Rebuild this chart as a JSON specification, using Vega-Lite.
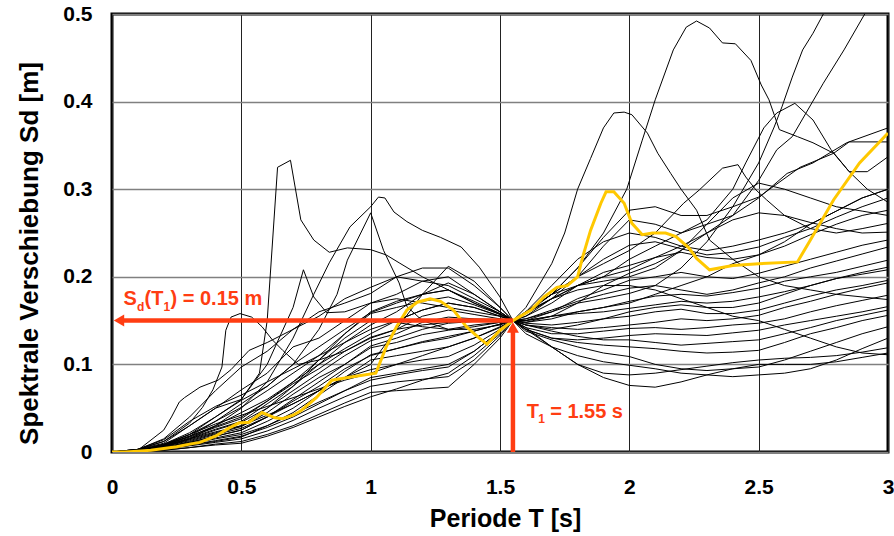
{
"$schema":"https://vega.github.io/schema/vega-lite/v6.json",
"width":776,"height":438,
"autosize":{"type":"none"},
"padding":{"left":112,"top":14,"right":6,"bottom":84},
"background":"white",
"config":{"view":{"stroke":"#000","strokeWidth":3},"font":"Liberation Sans"},
"datasets":{
"spectra":[
{"i":"1","T":0,"S":0},{"i":"1","T":0.1,"S":0.003},{"i":"1","T":0.2,"S":0.015},{"i":"1","T":0.3,"S":0.04},{"i":"1","T":0.4,"S":0.07},{"i":"1","T":0.5,"S":0.097},{"i":"1","T":0.6,"S":0.115},{"i":"1","T":0.7,"S":0.14},{"i":"1","T":0.8,"S":0.155},{"i":"1","T":0.9,"S":0.175},{"i":"1","T":1,"S":0.188},{"i":"1","T":1.1,"S":0.2},{"i":"1","T":1.2,"S":0.195},{"i":"1","T":1.3,"S":0.19},{"i":"1","T":1.4,"S":0.175},{"i":"1","T":1.5,"S":0.16},{"i":"1","T":1.55,"S":0.15},{"i":"1","T":1.6,"S":0.165},{"i":"1","T":1.7,"S":0.215},{"i":"1","T":1.75,"S":0.25},{"i":"1","T":1.8,"S":0.3},{"i":"1","T":1.85,"S":0.335},{"i":"1","T":1.9,"S":0.37},{"i":"1","T":1.94,"S":0.387},{"i":"1","T":1.98,"S":0.388},{"i":"1","T":2.01,"S":0.385},{"i":"1","T":2.07,"S":0.364},{"i":"1","T":2.11,"S":0.341},{"i":"1","T":2.16,"S":0.318},{"i":"1","T":2.2,"S":0.3},{"i":"1","T":2.26,"S":0.276},{"i":"1","T":2.31,"S":0.242},{"i":"1","T":2.4,"S":0.22},{"i":"1","T":2.5,"S":0.2},{"i":"1","T":2.6,"S":0.19},{"i":"1","T":2.7,"S":0.185},{"i":"1","T":2.8,"S":0.18},{"i":"1","T":2.9,"S":0.177},{"i":"1","T":3,"S":0.174},
{"i":"2","T":0,"S":0},{"i":"2","T":0.1,"S":0.002},{"i":"2","T":0.2,"S":0.025},{"i":"2","T":0.23,"S":0.04},{"i":"2","T":0.26,"S":0.057},{"i":"2","T":0.28,"S":0.062},{"i":"2","T":0.34,"S":0.074},{"i":"2","T":0.41,"S":0.082},{"i":"2","T":0.46,"S":0.094},{"i":"2","T":0.53,"S":0.116},{"i":"2","T":0.6,"S":0.125},{"i":"2","T":0.7,"S":0.14},{"i":"2","T":0.8,"S":0.16},{"i":"2","T":0.9,"S":0.17},{"i":"2","T":1,"S":0.181},{"i":"2","T":1.1,"S":0.2},{"i":"2","T":1.2,"S":0.21},{"i":"2","T":1.3,"S":0.21},{"i":"2","T":1.4,"S":0.19},{"i":"2","T":1.5,"S":0.165},{"i":"2","T":1.55,"S":0.15},{"i":"2","T":1.6,"S":0.16},{"i":"2","T":1.7,"S":0.18},{"i":"2","T":1.8,"S":0.21},{"i":"2","T":1.9,"S":0.25},{"i":"2","T":1.99,"S":0.3},{"i":"2","T":2.05,"S":0.356},{"i":"2","T":2.1,"S":0.402},{"i":"2","T":2.17,"S":0.459},{"i":"2","T":2.22,"S":0.485},{"i":"2","T":2.26,"S":0.492},{"i":"2","T":2.31,"S":0.484},{"i":"2","T":2.36,"S":0.467},{"i":"2","T":2.41,"S":0.466},{"i":"2","T":2.47,"S":0.447},{"i":"2","T":2.51,"S":0.419},{"i":"2","T":2.54,"S":0.402},{"i":"2","T":2.58,"S":0.368},{"i":"2","T":2.65,"S":0.36},{"i":"2","T":2.71,"S":0.353},{"i":"2","T":2.79,"S":0.341},{"i":"2","T":2.85,"S":0.32},{"i":"2","T":2.92,"S":0.32},{"i":"2","T":3,"S":0.337},
{"i":"3","T":0,"S":0},{"i":"3","T":0.1,"S":0.003},{"i":"3","T":0.2,"S":0.01},{"i":"3","T":0.3,"S":0.03},{"i":"3","T":0.4,"S":0.05},{"i":"3","T":0.5,"S":0.071},{"i":"3","T":0.6,"S":0.09},{"i":"3","T":0.7,"S":0.12},{"i":"3","T":0.8,"S":0.13},{"i":"3","T":0.9,"S":0.15},{"i":"3","T":1,"S":0.17},{"i":"3","T":1.1,"S":0.18},{"i":"3","T":1.2,"S":0.195},{"i":"3","T":1.3,"S":0.2},{"i":"3","T":1.4,"S":0.18},{"i":"3","T":1.5,"S":0.16},{"i":"3","T":1.55,"S":0.15},{"i":"3","T":1.6,"S":0.155},{"i":"3","T":1.7,"S":0.175},{"i":"3","T":1.8,"S":0.19},{"i":"3","T":1.9,"S":0.2},{"i":"3","T":2,"S":0.22},{"i":"3","T":2.1,"S":0.235},{"i":"3","T":2.2,"S":0.25},{"i":"3","T":2.3,"S":0.265},{"i":"3","T":2.4,"S":0.3},{"i":"3","T":2.45,"S":0.33},{"i":"3","T":2.52,"S":0.37},{"i":"3","T":2.57,"S":0.387},{"i":"3","T":2.64,"S":0.398},{"i":"3","T":2.71,"S":0.379},{"i":"3","T":2.78,"S":0.345},{"i":"3","T":2.85,"S":0.32},{"i":"3","T":2.92,"S":0.3},{"i":"3","T":3,"S":0.285},
{"i":"4","T":0,"S":0},{"i":"4","T":0.1,"S":0.002},{"i":"4","T":0.2,"S":0.009},{"i":"4","T":0.3,"S":0.022},{"i":"4","T":0.4,"S":0.04},{"i":"4","T":0.5,"S":0.059},{"i":"4","T":0.6,"S":0.075},{"i":"4","T":0.7,"S":0.1},{"i":"4","T":0.8,"S":0.12},{"i":"4","T":0.9,"S":0.14},{"i":"4","T":1,"S":0.159},{"i":"4","T":1.1,"S":0.17},{"i":"4","T":1.2,"S":0.18},{"i":"4","T":1.3,"S":0.185},{"i":"4","T":1.4,"S":0.17},{"i":"4","T":1.5,"S":0.158},{"i":"4","T":1.55,"S":0.15},{"i":"4","T":1.6,"S":0.152},{"i":"4","T":1.7,"S":0.16},{"i":"4","T":1.8,"S":0.17},{"i":"4","T":1.9,"S":0.175},{"i":"4","T":2,"S":0.181},{"i":"4","T":2.1,"S":0.19},{"i":"4","T":2.2,"S":0.21},{"i":"4","T":2.3,"S":0.24},{"i":"4","T":2.4,"S":0.28},{"i":"4","T":2.5,"S":0.33},{"i":"4","T":2.56,"S":0.371},{"i":"4","T":2.59,"S":0.394},{"i":"4","T":2.63,"S":0.428},{"i":"4","T":2.67,"S":0.459},{"i":"4","T":2.71,"S":0.478},{"i":"4","T":2.75,"S":0.5},{"i":"4","T":2.8,"S":0.54},
{"i":"5","T":0,"S":0},{"i":"5","T":0.1,"S":0.002},{"i":"5","T":0.2,"S":0.008},{"i":"5","T":0.3,"S":0.02},{"i":"5","T":0.4,"S":0.035},{"i":"5","T":0.5,"S":0.051},{"i":"5","T":0.6,"S":0.07},{"i":"5","T":0.7,"S":0.09},{"i":"5","T":0.8,"S":0.11},{"i":"5","T":0.9,"S":0.135},{"i":"5","T":1,"S":0.158},{"i":"5","T":1.1,"S":0.165},{"i":"5","T":1.2,"S":0.172},{"i":"5","T":1.3,"S":0.177},{"i":"5","T":1.4,"S":0.168},{"i":"5","T":1.5,"S":0.157},{"i":"5","T":1.55,"S":0.15},{"i":"5","T":1.6,"S":0.158},{"i":"5","T":1.7,"S":0.175},{"i":"5","T":1.8,"S":0.19},{"i":"5","T":1.9,"S":0.2},{"i":"5","T":2,"S":0.208},{"i":"5","T":2.1,"S":0.222},{"i":"5","T":2.2,"S":0.235},{"i":"5","T":2.3,"S":0.25},{"i":"5","T":2.4,"S":0.27},{"i":"5","T":2.5,"S":0.31},{"i":"5","T":2.57,"S":0.345},{"i":"5","T":2.63,"S":0.36},{"i":"5","T":2.75,"S":0.421},{"i":"5","T":2.83,"S":0.459},{"i":"5","T":2.91,"S":0.5},{"i":"5","T":3,"S":0.55},
{"i":"6","T":0,"S":0},{"i":"6","T":0.1,"S":0.002},{"i":"6","T":0.2,"S":0.007},{"i":"6","T":0.3,"S":0.018},{"i":"6","T":0.4,"S":0.03},{"i":"6","T":0.5,"S":0.045},{"i":"6","T":0.6,"S":0.06},{"i":"6","T":0.7,"S":0.08},{"i":"6","T":0.8,"S":0.1},{"i":"6","T":0.9,"S":0.118},{"i":"6","T":1,"S":0.135},{"i":"6","T":1.1,"S":0.15},{"i":"6","T":1.2,"S":0.162},{"i":"6","T":1.3,"S":0.17},{"i":"6","T":1.4,"S":0.165},{"i":"6","T":1.5,"S":0.155},{"i":"6","T":1.55,"S":0.15},{"i":"6","T":1.6,"S":0.16},{"i":"6","T":1.7,"S":0.18},{"i":"6","T":1.8,"S":0.2},{"i":"6","T":1.9,"S":0.215},{"i":"6","T":2,"S":0.23},{"i":"6","T":2.1,"S":0.25},{"i":"6","T":2.21,"S":0.284},{"i":"6","T":2.27,"S":0.299},{"i":"6","T":2.36,"S":0.324},{"i":"6","T":2.42,"S":0.328},{"i":"6","T":2.45,"S":0.314},{"i":"6","T":2.49,"S":0.299},{"i":"6","T":2.53,"S":0.288},{"i":"6","T":2.6,"S":0.27},{"i":"6","T":2.7,"S":0.255},{"i":"6","T":2.8,"S":0.25},{"i":"6","T":2.9,"S":0.255},{"i":"6","T":3,"S":0.261},
{"i":"7","T":0,"S":0},{"i":"7","T":0.1,"S":0.002},{"i":"7","T":0.2,"S":0.008},{"i":"7","T":0.3,"S":0.018},{"i":"7","T":0.4,"S":0.029},{"i":"7","T":0.5,"S":0.04},{"i":"7","T":0.6,"S":0.058},{"i":"7","T":0.7,"S":0.078},{"i":"7","T":0.8,"S":0.095},{"i":"7","T":0.9,"S":0.115},{"i":"7","T":1,"S":0.131},{"i":"7","T":1.1,"S":0.14},{"i":"7","T":1.2,"S":0.155},{"i":"7","T":1.3,"S":0.162},{"i":"7","T":1.4,"S":0.157},{"i":"7","T":1.5,"S":0.152},{"i":"7","T":1.55,"S":0.15},{"i":"7","T":1.6,"S":0.158},{"i":"7","T":1.7,"S":0.18},{"i":"7","T":1.8,"S":0.21},{"i":"7","T":1.9,"S":0.245},{"i":"7","T":2,"S":0.276},{"i":"7","T":2.1,"S":0.28},{"i":"7","T":2.2,"S":0.27},{"i":"7","T":2.3,"S":0.27},{"i":"7","T":2.4,"S":0.28},{"i":"7","T":2.5,"S":0.291},{"i":"7","T":2.66,"S":0.325},{"i":"7","T":2.79,"S":0.341},{"i":"7","T":2.85,"S":0.354},{"i":"7","T":3,"S":0.354},
{"i":"8","T":0,"S":0},{"i":"8","T":0.1,"S":0.002},{"i":"8","T":0.2,"S":0.007},{"i":"8","T":0.3,"S":0.015},{"i":"8","T":0.4,"S":0.025},{"i":"8","T":0.5,"S":0.034},{"i":"8","T":0.6,"S":0.05},{"i":"8","T":0.7,"S":0.07},{"i":"8","T":0.8,"S":0.09},{"i":"8","T":0.9,"S":0.11},{"i":"8","T":1,"S":0.127},{"i":"8","T":1.1,"S":0.135},{"i":"8","T":1.2,"S":0.148},{"i":"8","T":1.3,"S":0.154},{"i":"8","T":1.4,"S":0.152},{"i":"8","T":1.5,"S":0.151},{"i":"8","T":1.55,"S":0.15},{"i":"8","T":1.6,"S":0.16},{"i":"8","T":1.7,"S":0.18},{"i":"8","T":1.8,"S":0.2},{"i":"8","T":1.9,"S":0.235},{"i":"8","T":2,"S":0.265},{"i":"8","T":2.1,"S":0.26},{"i":"8","T":2.2,"S":0.25},{"i":"8","T":2.3,"S":0.26},{"i":"8","T":2.4,"S":0.27},{"i":"8","T":2.5,"S":0.29},{"i":"8","T":2.61,"S":0.318},{"i":"8","T":2.71,"S":0.33},{"i":"8","T":2.84,"S":0.353},{"i":"8","T":3,"S":0.37},
{"i":"9","T":0,"S":0},{"i":"9","T":0.1,"S":0.002},{"i":"9","T":0.2,"S":0.006},{"i":"9","T":0.3,"S":0.013},{"i":"9","T":0.4,"S":0.021},{"i":"9","T":0.5,"S":0.029},{"i":"9","T":0.6,"S":0.045},{"i":"9","T":0.7,"S":0.066},{"i":"9","T":0.8,"S":0.085},{"i":"9","T":0.9,"S":0.1},{"i":"9","T":1,"S":0.121},{"i":"9","T":1.1,"S":0.13},{"i":"9","T":1.2,"S":0.14},{"i":"9","T":1.3,"S":0.147},{"i":"9","T":1.4,"S":0.149},{"i":"9","T":1.5,"S":0.15},{"i":"9","T":1.55,"S":0.15},{"i":"9","T":1.6,"S":0.16},{"i":"9","T":1.7,"S":0.19},{"i":"9","T":1.8,"S":0.22},{"i":"9","T":1.9,"S":0.24},{"i":"9","T":2,"S":0.25},{"i":"9","T":2.1,"S":0.245},{"i":"9","T":2.2,"S":0.235},{"i":"9","T":2.3,"S":0.23},{"i":"9","T":2.4,"S":0.235},{"i":"9","T":2.5,"S":0.242},{"i":"9","T":2.6,"S":0.25},{"i":"9","T":2.7,"S":0.26},{"i":"9","T":2.8,"S":0.275},{"i":"9","T":2.9,"S":0.29},{"i":"9","T":3,"S":0.3},
{"i":"10","T":0,"S":0},{"i":"10","T":0.1,"S":0.001},{"i":"10","T":0.2,"S":0.005},{"i":"10","T":0.3,"S":0.011},{"i":"10","T":0.4,"S":0.018},{"i":"10","T":0.5,"S":0.025},{"i":"10","T":0.6,"S":0.04},{"i":"10","T":0.7,"S":0.06},{"i":"10","T":0.8,"S":0.08},{"i":"10","T":0.9,"S":0.1},{"i":"10","T":1,"S":0.119},{"i":"10","T":1.1,"S":0.125},{"i":"10","T":1.2,"S":0.134},{"i":"10","T":1.3,"S":0.139},{"i":"10","T":1.4,"S":0.143},{"i":"10","T":1.5,"S":0.148},{"i":"10","T":1.55,"S":0.15},{"i":"10","T":1.6,"S":0.158},{"i":"10","T":1.7,"S":0.175},{"i":"10","T":1.8,"S":0.2},{"i":"10","T":1.9,"S":0.22},{"i":"10","T":2,"S":0.236},{"i":"10","T":2.1,"S":0.24},{"i":"10","T":2.2,"S":0.232},{"i":"10","T":2.3,"S":0.225},{"i":"10","T":2.4,"S":0.228},{"i":"10","T":2.5,"S":0.234},{"i":"10","T":2.6,"S":0.245},{"i":"10","T":2.7,"S":0.255},{"i":"10","T":2.8,"S":0.268},{"i":"10","T":2.9,"S":0.28},{"i":"10","T":3,"S":0.29},
{"i":"11","T":0,"S":0},{"i":"11","T":0.1,"S":0.001},{"i":"11","T":0.2,"S":0.004},{"i":"11","T":0.3,"S":0.01},{"i":"11","T":0.4,"S":0.016},{"i":"11","T":0.5,"S":0.022},{"i":"11","T":0.6,"S":0.035},{"i":"11","T":0.7,"S":0.05},{"i":"11","T":0.8,"S":0.07},{"i":"11","T":0.9,"S":0.092},{"i":"11","T":1,"S":0.111},{"i":"11","T":1.1,"S":0.118},{"i":"11","T":1.2,"S":0.126},{"i":"11","T":1.3,"S":0.132},{"i":"11","T":1.4,"S":0.138},{"i":"11","T":1.5,"S":0.146},{"i":"11","T":1.55,"S":0.15},{"i":"11","T":1.6,"S":0.155},{"i":"11","T":1.7,"S":0.17},{"i":"11","T":1.8,"S":0.19},{"i":"11","T":1.9,"S":0.205},{"i":"11","T":2,"S":0.213},{"i":"11","T":2.1,"S":0.222},{"i":"11","T":2.2,"S":0.228},{"i":"11","T":2.3,"S":0.222},{"i":"11","T":2.4,"S":0.22},{"i":"11","T":2.5,"S":0.225},{"i":"11","T":2.6,"S":0.235},{"i":"11","T":2.7,"S":0.248},{"i":"11","T":2.8,"S":0.26},{"i":"11","T":2.9,"S":0.27},{"i":"11","T":3,"S":0.276},
{"i":"12","T":0,"S":0},{"i":"12","T":0.1,"S":0.001},{"i":"12","T":0.2,"S":0.004},{"i":"12","T":0.3,"S":0.008},{"i":"12","T":0.4,"S":0.012},{"i":"12","T":0.5,"S":0.017},{"i":"12","T":0.6,"S":0.03},{"i":"12","T":0.7,"S":0.045},{"i":"12","T":0.8,"S":0.065},{"i":"12","T":0.9,"S":0.085},{"i":"12","T":1,"S":0.105},{"i":"12","T":1.1,"S":0.11},{"i":"12","T":1.2,"S":0.115},{"i":"12","T":1.3,"S":0.12},{"i":"12","T":1.4,"S":0.13},{"i":"12","T":1.5,"S":0.142},{"i":"12","T":1.55,"S":0.15},{"i":"12","T":1.6,"S":0.148},{"i":"12","T":1.7,"S":0.155},{"i":"12","T":1.8,"S":0.17},{"i":"12","T":1.9,"S":0.19},{"i":"12","T":2,"S":0.204},{"i":"12","T":2.1,"S":0.215},{"i":"12","T":2.2,"S":0.23},{"i":"12","T":2.3,"S":0.25},{"i":"12","T":2.4,"S":0.265},{"i":"12","T":2.5,"S":0.273},{"i":"12","T":2.6,"S":0.27},{"i":"12","T":2.7,"S":0.262},{"i":"12","T":2.8,"S":0.255},{"i":"12","T":2.9,"S":0.25},{"i":"12","T":3,"S":0.251},
{"i":"13","T":0,"S":0},{"i":"13","T":0.1,"S":0.002},{"i":"13","T":0.2,"S":0.007},{"i":"13","T":0.3,"S":0.015},{"i":"13","T":0.4,"S":0.023},{"i":"13","T":0.5,"S":0.03},{"i":"13","T":0.6,"S":0.042},{"i":"13","T":0.7,"S":0.055},{"i":"13","T":0.8,"S":0.07},{"i":"13","T":0.9,"S":0.085},{"i":"13","T":1,"S":0.094},{"i":"13","T":1.1,"S":0.1},{"i":"13","T":1.2,"S":0.105},{"i":"13","T":1.3,"S":0.109},{"i":"13","T":1.4,"S":0.122},{"i":"13","T":1.5,"S":0.14},{"i":"13","T":1.55,"S":0.15},{"i":"13","T":1.6,"S":0.15},{"i":"13","T":1.7,"S":0.16},{"i":"13","T":1.8,"S":0.175},{"i":"13","T":1.9,"S":0.185},{"i":"13","T":2,"S":0.196},{"i":"13","T":2.1,"S":0.2},{"i":"13","T":2.2,"S":0.205},{"i":"13","T":2.3,"S":0.2},{"i":"13","T":2.4,"S":0.198},{"i":"13","T":2.5,"S":0.204},{"i":"13","T":2.6,"S":0.212},{"i":"13","T":2.7,"S":0.22},{"i":"13","T":2.8,"S":0.228},{"i":"13","T":2.9,"S":0.236},{"i":"13","T":3,"S":0.242},
{"i":"14","T":0,"S":0},{"i":"14","T":0.1,"S":0.001},{"i":"14","T":0.2,"S":0.004},{"i":"14","T":0.3,"S":0.009},{"i":"14","T":0.4,"S":0.015},{"i":"14","T":0.5,"S":0.02},{"i":"14","T":0.6,"S":0.03},{"i":"14","T":0.7,"S":0.043},{"i":"14","T":0.8,"S":0.057},{"i":"14","T":0.9,"S":0.07},{"i":"14","T":1,"S":0.082},{"i":"14","T":1.1,"S":0.088},{"i":"14","T":1.2,"S":0.093},{"i":"14","T":1.3,"S":0.097},{"i":"14","T":1.4,"S":0.115},{"i":"14","T":1.5,"S":0.138},{"i":"14","T":1.55,"S":0.15},{"i":"14","T":1.6,"S":0.152},{"i":"14","T":1.7,"S":0.162},{"i":"14","T":1.8,"S":0.172},{"i":"14","T":1.9,"S":0.18},{"i":"14","T":2,"S":0.187},{"i":"14","T":2.1,"S":0.19},{"i":"14","T":2.2,"S":0.185},{"i":"14","T":2.3,"S":0.18},{"i":"14","T":2.4,"S":0.185},{"i":"14","T":2.5,"S":0.193},{"i":"14","T":2.6,"S":0.2},{"i":"14","T":2.7,"S":0.21},{"i":"14","T":2.8,"S":0.218},{"i":"14","T":2.9,"S":0.226},{"i":"14","T":3,"S":0.234},
{"i":"15","T":0,"S":0},{"i":"15","T":0.1,"S":0.001},{"i":"15","T":0.2,"S":0.003},{"i":"15","T":0.3,"S":0.007},{"i":"15","T":0.4,"S":0.011},{"i":"15","T":0.5,"S":0.015},{"i":"15","T":0.6,"S":0.024},{"i":"15","T":0.7,"S":0.036},{"i":"15","T":0.8,"S":0.05},{"i":"15","T":0.9,"S":0.063},{"i":"15","T":1,"S":0.075},{"i":"15","T":1.1,"S":0.08},{"i":"15","T":1.2,"S":0.083},{"i":"15","T":1.3,"S":0.086},{"i":"15","T":1.4,"S":0.105},{"i":"15","T":1.5,"S":0.133},{"i":"15","T":1.55,"S":0.15},{"i":"15","T":1.6,"S":0.148},{"i":"15","T":1.7,"S":0.152},{"i":"15","T":1.8,"S":0.16},{"i":"15","T":1.9,"S":0.165},{"i":"15","T":2,"S":0.172},{"i":"15","T":2.1,"S":0.178},{"i":"15","T":2.2,"S":0.18},{"i":"15","T":2.3,"S":0.178},{"i":"15","T":2.4,"S":0.182},{"i":"15","T":2.5,"S":0.187},{"i":"15","T":2.6,"S":0.195},{"i":"15","T":2.7,"S":0.2},{"i":"15","T":2.8,"S":0.205},{"i":"15","T":2.9,"S":0.212},{"i":"15","T":3,"S":0.219},
{"i":"16","T":0,"S":0},{"i":"16","T":0.1,"S":0.001},{"i":"16","T":0.2,"S":0.002},{"i":"16","T":0.3,"S":0.005},{"i":"16","T":0.4,"S":0.009},{"i":"16","T":0.5,"S":0.012},{"i":"16","T":0.6,"S":0.02},{"i":"16","T":0.7,"S":0.03},{"i":"16","T":0.8,"S":0.043},{"i":"16","T":0.9,"S":0.056},{"i":"16","T":1,"S":0.068},{"i":"16","T":1.1,"S":0.07},{"i":"16","T":1.2,"S":0.072},{"i":"16","T":1.3,"S":0.074},{"i":"16","T":1.4,"S":0.1},{"i":"16","T":1.5,"S":0.13},{"i":"16","T":1.55,"S":0.15},{"i":"16","T":1.6,"S":0.15},{"i":"16","T":1.7,"S":0.155},{"i":"16","T":1.8,"S":0.158},{"i":"16","T":1.9,"S":0.16},{"i":"16","T":2,"S":0.164},{"i":"16","T":2.1,"S":0.168},{"i":"16","T":2.2,"S":0.172},{"i":"16","T":2.3,"S":0.17},{"i":"16","T":2.4,"S":0.172},{"i":"16","T":2.5,"S":0.177},{"i":"16","T":2.6,"S":0.183},{"i":"16","T":2.7,"S":0.19},{"i":"16","T":2.8,"S":0.198},{"i":"16","T":2.9,"S":0.205},{"i":"16","T":3,"S":0.211},
{"i":"17","T":0,"S":0},{"i":"17","T":0.1,"S":0.001},{"i":"17","T":0.2,"S":0.002},{"i":"17","T":0.3,"S":0.005},{"i":"17","T":0.4,"S":0.008},{"i":"17","T":0.5,"S":0.01},{"i":"17","T":0.6,"S":0.018},{"i":"17","T":0.7,"S":0.028},{"i":"17","T":0.8,"S":0.04},{"i":"17","T":0.9,"S":0.052},{"i":"17","T":1,"S":0.063},{"i":"17","T":1.1,"S":0.072},{"i":"17","T":1.2,"S":0.082},{"i":"17","T":1.3,"S":0.09},{"i":"17","T":1.4,"S":0.11},{"i":"17","T":1.5,"S":0.135},{"i":"17","T":1.55,"S":0.15},{"i":"17","T":1.6,"S":0.145},{"i":"17","T":1.7,"S":0.14},{"i":"17","T":1.8,"S":0.145},{"i":"17","T":1.9,"S":0.152},{"i":"17","T":2,"S":0.16},{"i":"17","T":2.1,"S":0.165},{"i":"17","T":2.2,"S":0.168},{"i":"17","T":2.3,"S":0.165},{"i":"17","T":2.4,"S":0.165},{"i":"17","T":2.5,"S":0.17},{"i":"17","T":2.6,"S":0.18},{"i":"17","T":2.7,"S":0.19},{"i":"17","T":2.8,"S":0.198},{"i":"17","T":2.9,"S":0.203},{"i":"17","T":3,"S":0.208},
{"i":"18","T":0,"S":0},{"i":"18","T":0.1,"S":0.003},{"i":"18","T":0.2,"S":0.012},{"i":"18","T":0.3,"S":0.03},{"i":"18","T":0.4,"S":0.05},{"i":"18","T":0.5,"S":0.06},{"i":"18","T":0.6,"S":0.1},{"i":"18","T":0.7,"S":0.165},{"i":"18","T":0.74,"S":0.208},{"i":"18","T":0.78,"S":0.177},{"i":"18","T":0.83,"S":0.159},{"i":"18","T":0.9,"S":0.16},{"i":"18","T":1,"S":0.17},{"i":"18","T":1.1,"S":0.175},{"i":"18","T":1.2,"S":0.17},{"i":"18","T":1.3,"S":0.165},{"i":"18","T":1.4,"S":0.16},{"i":"18","T":1.5,"S":0.155},{"i":"18","T":1.55,"S":0.15},{"i":"18","T":1.6,"S":0.147},{"i":"18","T":1.7,"S":0.145},{"i":"18","T":1.8,"S":0.148},{"i":"18","T":1.9,"S":0.152},{"i":"18","T":2,"S":0.155},{"i":"18","T":2.1,"S":0.16},{"i":"18","T":2.2,"S":0.163},{"i":"18","T":2.3,"S":0.158},{"i":"18","T":2.4,"S":0.158},{"i":"18","T":2.5,"S":0.162},{"i":"18","T":2.6,"S":0.17},{"i":"18","T":2.7,"S":0.178},{"i":"18","T":2.8,"S":0.185},{"i":"18","T":2.9,"S":0.19},{"i":"18","T":3,"S":0.196},
{"i":"19","T":0,"S":0},{"i":"19","T":0.1,"S":0.002},{"i":"19","T":0.2,"S":0.007},{"i":"19","T":0.3,"S":0.016},{"i":"19","T":0.4,"S":0.026},{"i":"19","T":0.5,"S":0.035},{"i":"19","T":0.6,"S":0.055},{"i":"19","T":0.7,"S":0.075},{"i":"19","T":0.8,"S":0.1},{"i":"19","T":0.9,"S":0.125},{"i":"19","T":1,"S":0.145},{"i":"19","T":1.1,"S":0.16},{"i":"19","T":1.2,"S":0.18},{"i":"19","T":1.3,"S":0.193},{"i":"19","T":1.4,"S":0.18},{"i":"19","T":1.5,"S":0.16},{"i":"19","T":1.55,"S":0.15},{"i":"19","T":1.6,"S":0.145},{"i":"19","T":1.7,"S":0.142},{"i":"19","T":1.8,"S":0.14},{"i":"19","T":1.9,"S":0.142},{"i":"19","T":2,"S":0.145},{"i":"19","T":2.1,"S":0.148},{"i":"19","T":2.2,"S":0.152},{"i":"19","T":2.3,"S":0.15},{"i":"19","T":2.4,"S":0.152},{"i":"19","T":2.5,"S":0.156},{"i":"19","T":2.6,"S":0.165},{"i":"19","T":2.7,"S":0.172},{"i":"19","T":2.8,"S":0.18},{"i":"19","T":2.9,"S":0.187},{"i":"19","T":3,"S":0.193},
{"i":"20","T":0,"S":0},{"i":"20","T":0.1,"S":0.001},{"i":"20","T":0.2,"S":0.005},{"i":"20","T":0.3,"S":0.012},{"i":"20","T":0.4,"S":0.02},{"i":"20","T":0.5,"S":0.027},{"i":"20","T":0.6,"S":0.04},{"i":"20","T":0.7,"S":0.055},{"i":"20","T":0.8,"S":0.07},{"i":"20","T":0.9,"S":0.085},{"i":"20","T":1,"S":0.1},{"i":"20","T":1.1,"S":0.14},{"i":"20","T":1.2,"S":0.18},{"i":"20","T":1.3,"S":0.212},{"i":"20","T":1.4,"S":0.195},{"i":"20","T":1.5,"S":0.165},{"i":"20","T":1.55,"S":0.15},{"i":"20","T":1.6,"S":0.142},{"i":"20","T":1.7,"S":0.135},{"i":"20","T":1.8,"S":0.135},{"i":"20","T":1.9,"S":0.138},{"i":"20","T":2,"S":0.141},{"i":"20","T":2.1,"S":0.142},{"i":"20","T":2.2,"S":0.14},{"i":"20","T":2.3,"S":0.142},{"i":"20","T":2.4,"S":0.145},{"i":"20","T":2.5,"S":0.147},{"i":"20","T":2.6,"S":0.152},{"i":"20","T":2.7,"S":0.16},{"i":"20","T":2.8,"S":0.167},{"i":"20","T":2.9,"S":0.173},{"i":"20","T":3,"S":0.179},
{"i":"21","T":0,"S":0},{"i":"21","T":0.1,"S":0.003},{"i":"21","T":0.2,"S":0.014},{"i":"21","T":0.3,"S":0.035},{"i":"21","T":0.4,"S":0.052},{"i":"21","T":0.5,"S":0.065},{"i":"21","T":0.6,"S":0.08},{"i":"21","T":0.7,"S":0.095},{"i":"21","T":0.8,"S":0.11},{"i":"21","T":0.9,"S":0.125},{"i":"21","T":1,"S":0.14},{"i":"21","T":1.1,"S":0.15},{"i":"21","T":1.2,"S":0.162},{"i":"21","T":1.3,"S":0.17},{"i":"21","T":1.4,"S":0.165},{"i":"21","T":1.5,"S":0.155},{"i":"21","T":1.55,"S":0.15},{"i":"21","T":1.6,"S":0.14},{"i":"21","T":1.7,"S":0.13},{"i":"21","T":1.8,"S":0.128},{"i":"21","T":1.9,"S":0.13},{"i":"21","T":2,"S":0.133},{"i":"21","T":2.1,"S":0.135},{"i":"21","T":2.2,"S":0.134},{"i":"21","T":2.3,"S":0.133},{"i":"21","T":2.4,"S":0.136},{"i":"21","T":2.5,"S":0.139},{"i":"21","T":2.6,"S":0.145},{"i":"21","T":2.7,"S":0.15},{"i":"21","T":2.8,"S":0.155},{"i":"21","T":2.9,"S":0.16},{"i":"21","T":3,"S":0.166},
{"i":"22","T":0,"S":0},{"i":"22","T":0.1,"S":0.002},{"i":"22","T":0.2,"S":0.009},{"i":"22","T":0.3,"S":0.02},{"i":"22","T":0.4,"S":0.032},{"i":"22","T":0.5,"S":0.042},{"i":"22","T":0.6,"S":0.052},{"i":"22","T":0.7,"S":0.062},{"i":"22","T":0.8,"S":0.072},{"i":"22","T":0.9,"S":0.082},{"i":"22","T":1,"S":0.09},{"i":"22","T":1.1,"S":0.1},{"i":"22","T":1.2,"S":0.11},{"i":"22","T":1.3,"S":0.12},{"i":"22","T":1.4,"S":0.13},{"i":"22","T":1.5,"S":0.143},{"i":"22","T":1.55,"S":0.15},{"i":"22","T":1.6,"S":0.145},{"i":"22","T":1.7,"S":0.138},{"i":"22","T":1.8,"S":0.132},{"i":"22","T":1.9,"S":0.128},{"i":"22","T":2,"S":0.128},{"i":"22","T":2.1,"S":0.125},{"i":"22","T":2.2,"S":0.122},{"i":"22","T":2.3,"S":0.124},{"i":"22","T":2.4,"S":0.126},{"i":"22","T":2.5,"S":0.128},{"i":"22","T":2.6,"S":0.135},{"i":"22","T":2.7,"S":0.142},{"i":"22","T":2.8,"S":0.15},{"i":"22","T":2.9,"S":0.156},{"i":"22","T":3,"S":0.162},
{"i":"23","T":0,"S":0},{"i":"23","T":0.1,"S":0.002},{"i":"23","T":0.2,"S":0.006},{"i":"23","T":0.3,"S":0.014},{"i":"23","T":0.4,"S":0.022},{"i":"23","T":0.5,"S":0.03},{"i":"23","T":0.6,"S":0.05},{"i":"23","T":0.7,"S":0.075},{"i":"23","T":0.8,"S":0.105},{"i":"23","T":0.9,"S":0.135},{"i":"23","T":1,"S":0.16},{"i":"23","T":1.1,"S":0.172},{"i":"23","T":1.2,"S":0.18},{"i":"23","T":1.3,"S":0.185},{"i":"23","T":1.4,"S":0.172},{"i":"23","T":1.5,"S":0.158},{"i":"23","T":1.55,"S":0.15},{"i":"23","T":1.6,"S":0.14},{"i":"23","T":1.7,"S":0.13},{"i":"23","T":1.8,"S":0.125},{"i":"23","T":1.9,"S":0.122},{"i":"23","T":2,"S":0.12},{"i":"23","T":2.1,"S":0.118},{"i":"23","T":2.2,"S":0.115},{"i":"23","T":2.3,"S":0.113},{"i":"23","T":2.4,"S":0.114},{"i":"23","T":2.5,"S":0.116},{"i":"23","T":2.6,"S":0.125},{"i":"23","T":2.7,"S":0.135},{"i":"23","T":2.8,"S":0.142},{"i":"23","T":2.9,"S":0.15},{"i":"23","T":3,"S":0.156},
{"i":"24","T":0,"S":0},{"i":"24","T":0.1,"S":0.001},{"i":"24","T":0.2,"S":0.005},{"i":"24","T":0.3,"S":0.011},{"i":"24","T":0.4,"S":0.018},{"i":"24","T":0.5,"S":0.025},{"i":"24","T":0.6,"S":0.04},{"i":"24","T":0.7,"S":0.058},{"i":"24","T":0.8,"S":0.075},{"i":"24","T":0.9,"S":0.095},{"i":"24","T":1,"S":0.11},{"i":"24","T":1.1,"S":0.118},{"i":"24","T":1.2,"S":0.125},{"i":"24","T":1.3,"S":0.13},{"i":"24","T":1.4,"S":0.138},{"i":"24","T":1.5,"S":0.146},{"i":"24","T":1.55,"S":0.15},{"i":"24","T":1.6,"S":0.15},{"i":"24","T":1.7,"S":0.155},{"i":"24","T":1.8,"S":0.16},{"i":"24","T":1.9,"S":0.165},{"i":"24","T":2,"S":0.17},{"i":"24","T":2.1,"S":0.18},{"i":"24","T":2.2,"S":0.19},{"i":"24","T":2.3,"S":0.2},{"i":"24","T":2.4,"S":0.215},{"i":"24","T":2.5,"S":0.225},{"i":"24","T":2.6,"S":0.24},{"i":"24","T":2.7,"S":0.26},{"i":"24","T":2.8,"S":0.275},{"i":"24","T":2.9,"S":0.29},{"i":"24","T":3,"S":0.3},
{"i":"25","T":0,"S":0},{"i":"25","T":0.1,"S":0.001},{"i":"25","T":0.2,"S":0.004},{"i":"25","T":0.3,"S":0.008},{"i":"25","T":0.4,"S":0.013},{"i":"25","T":0.5,"S":0.018},{"i":"25","T":0.6,"S":0.028},{"i":"25","T":0.7,"S":0.04},{"i":"25","T":0.8,"S":0.055},{"i":"25","T":0.9,"S":0.07},{"i":"25","T":1,"S":0.085},{"i":"25","T":1.1,"S":0.09},{"i":"25","T":1.2,"S":0.095},{"i":"25","T":1.3,"S":0.1},{"i":"25","T":1.4,"S":0.115},{"i":"25","T":1.5,"S":0.138},{"i":"25","T":1.55,"S":0.15},{"i":"25","T":1.6,"S":0.16},{"i":"25","T":1.7,"S":0.175},{"i":"25","T":1.8,"S":0.185},{"i":"25","T":1.9,"S":0.19},{"i":"25","T":2,"S":0.19},{"i":"25","T":2.1,"S":0.185},{"i":"25","T":2.2,"S":0.175},{"i":"25","T":2.3,"S":0.165},{"i":"25","T":2.4,"S":0.155},{"i":"25","T":2.5,"S":0.15},{"i":"25","T":2.6,"S":0.14},{"i":"25","T":2.7,"S":0.13},{"i":"25","T":2.8,"S":0.12},{"i":"25","T":2.9,"S":0.113},{"i":"25","T":3,"S":0.111},
{"i":"26","T":0,"S":0},{"i":"26","T":0.1,"S":0.002},{"i":"26","T":0.2,"S":0.008},{"i":"26","T":0.3,"S":0.017},{"i":"26","T":0.4,"S":0.028},{"i":"26","T":0.5,"S":0.038},{"i":"26","T":0.6,"S":0.058},{"i":"26","T":0.7,"S":0.08},{"i":"26","T":0.8,"S":0.105},{"i":"26","T":0.9,"S":0.13},{"i":"26","T":1,"S":0.15},{"i":"26","T":1.1,"S":0.148},{"i":"26","T":1.2,"S":0.143},{"i":"26","T":1.3,"S":0.14},{"i":"26","T":1.4,"S":0.145},{"i":"26","T":1.5,"S":0.148},{"i":"26","T":1.55,"S":0.15},{"i":"26","T":1.6,"S":0.16},{"i":"26","T":1.7,"S":0.18},{"i":"26","T":1.8,"S":0.19},{"i":"26","T":1.9,"S":0.195},{"i":"26","T":2,"S":0.2},{"i":"26","T":2.1,"S":0.21},{"i":"26","T":2.2,"S":0.23},{"i":"26","T":2.3,"S":0.26},{"i":"26","T":2.4,"S":0.29},{"i":"26","T":2.5,"S":0.307},{"i":"26","T":2.6,"S":0.3},{"i":"26","T":2.7,"S":0.29},{"i":"26","T":2.8,"S":0.28},{"i":"26","T":2.9,"S":0.275},{"i":"26","T":3,"S":0.27},
{"i":"A","T":0,"S":0},{"i":"A","T":0.1,"S":0.002},{"i":"A","T":0.2,"S":0.008},{"i":"A","T":0.3,"S":0.02},{"i":"A","T":0.4,"S":0.04},{"i":"A","T":0.5,"S":0.06},{"i":"A","T":0.57,"S":0.09},{"i":"A","T":0.6,"S":0.15},{"i":"A","T":0.64,"S":0.325},{"i":"A","T":0.69,"S":0.333},{"i":"A","T":0.73,"S":0.265},{"i":"A","T":0.78,"S":0.242},{"i":"A","T":0.84,"S":0.228},{"i":"A","T":0.91,"S":0.233},{"i":"A","T":1,"S":0.231},{"i":"A","T":1.06,"S":0.225},{"i":"A","T":1.11,"S":0.216},{"i":"A","T":1.2,"S":0.2},{"i":"A","T":1.3,"S":0.185},{"i":"A","T":1.4,"S":0.17},{"i":"A","T":1.5,"S":0.157},{"i":"A","T":1.55,"S":0.15},{"i":"A","T":1.6,"S":0.138},{"i":"A","T":1.7,"S":0.128},{"i":"A","T":1.8,"S":0.12},{"i":"A","T":1.9,"S":0.113},{"i":"A","T":2,"S":0.109},{"i":"A","T":2.1,"S":0.1},{"i":"A","T":2.2,"S":0.095},{"i":"A","T":2.3,"S":0.093},{"i":"A","T":2.4,"S":0.095},{"i":"A","T":2.5,"S":0.097},{"i":"A","T":2.6,"S":0.105},{"i":"A","T":2.7,"S":0.115},{"i":"A","T":2.8,"S":0.125},{"i":"A","T":2.9,"S":0.135},{"i":"A","T":3,"S":0.143},
{"i":"B","T":0,"S":0},{"i":"B","T":0.1,"S":0.002},{"i":"B","T":0.2,"S":0.006},{"i":"B","T":0.3,"S":0.015},{"i":"B","T":0.4,"S":0.03},{"i":"B","T":0.5,"S":0.05},{"i":"B","T":0.6,"S":0.08},{"i":"B","T":0.7,"S":0.13},{"i":"B","T":0.78,"S":0.18},{"i":"B","T":0.84,"S":0.216},{"i":"B","T":0.92,"S":0.257},{"i":"B","T":1,"S":0.28},{"i":"B","T":1.03,"S":0.291},{"i":"B","T":1.055,"S":0.29},{"i":"B","T":1.09,"S":0.274},{"i":"B","T":1.14,"S":0.263},{"i":"B","T":1.2,"S":0.253},{"i":"B","T":1.27,"S":0.245},{"i":"B","T":1.35,"S":0.234},{"i":"B","T":1.42,"S":0.211},{"i":"B","T":1.5,"S":0.177},{"i":"B","T":1.55,"S":0.15},{"i":"B","T":1.6,"S":0.135},{"i":"B","T":1.7,"S":0.12},{"i":"B","T":1.8,"S":0.11},{"i":"B","T":1.9,"S":0.103},{"i":"B","T":2,"S":0.099},{"i":"B","T":2.1,"S":0.095},{"i":"B","T":2.2,"S":0.09},{"i":"B","T":2.3,"S":0.088},{"i":"B","T":2.4,"S":0.086},{"i":"B","T":2.5,"S":0.088},{"i":"B","T":2.6,"S":0.09},{"i":"B","T":2.7,"S":0.095},{"i":"B","T":2.8,"S":0.105},{"i":"B","T":2.9,"S":0.118},{"i":"B","T":3,"S":0.13},
{"i":"C","T":0,"S":0},{"i":"C","T":0.1,"S":0.002},{"i":"C","T":0.2,"S":0.007},{"i":"C","T":0.3,"S":0.018},{"i":"C","T":0.4,"S":0.035},{"i":"C","T":0.5,"S":0.055},{"i":"C","T":0.6,"S":0.075},{"i":"C","T":0.7,"S":0.1},{"i":"C","T":0.8,"S":0.14},{"i":"C","T":0.87,"S":0.18},{"i":"C","T":0.91,"S":0.219},{"i":"C","T":1,"S":0.273},{"i":"C","T":1.05,"S":0.23},{"i":"C","T":1.11,"S":0.193},{"i":"C","T":1.14,"S":0.166},{"i":"C","T":1.2,"S":0.15},{"i":"C","T":1.3,"S":0.14},{"i":"C","T":1.4,"S":0.14},{"i":"C","T":1.5,"S":0.145},{"i":"C","T":1.55,"S":0.15},{"i":"C","T":1.6,"S":0.14},{"i":"C","T":1.7,"S":0.12},{"i":"C","T":1.8,"S":0.1},{"i":"C","T":1.9,"S":0.09},{"i":"C","T":2,"S":0.088},{"i":"C","T":2.1,"S":0.09},{"i":"C","T":2.2,"S":0.094},{"i":"C","T":2.3,"S":0.098},{"i":"C","T":2.4,"S":0.102},{"i":"C","T":2.5,"S":0.105},{"i":"C","T":2.6,"S":0.107},{"i":"C","T":2.7,"S":0.108},{"i":"C","T":2.8,"S":0.11},{"i":"C","T":2.9,"S":0.114},{"i":"C","T":3,"S":0.119},
{"i":"D","T":0,"S":0},{"i":"D","T":0.1,"S":0.003},{"i":"D","T":0.2,"S":0.012},{"i":"D","T":0.3,"S":0.033},{"i":"D","T":0.35,"S":0.051},{"i":"D","T":0.39,"S":0.071},{"i":"D","T":0.425,"S":0.097},{"i":"D","T":0.44,"S":0.139},{"i":"D","T":0.46,"S":0.154},{"i":"D","T":0.495,"S":0.158},{"i":"D","T":0.54,"S":0.154},{"i":"D","T":0.58,"S":0.143},{"i":"D","T":0.62,"S":0.128},{"i":"D","T":0.66,"S":0.116},{"i":"D","T":0.72,"S":0.1},{"i":"D","T":0.8,"S":0.105},{"i":"D","T":0.9,"S":0.115},{"i":"D","T":1,"S":0.13},{"i":"D","T":1.1,"S":0.14},{"i":"D","T":1.2,"S":0.145},{"i":"D","T":1.3,"S":0.148},{"i":"D","T":1.4,"S":0.15},{"i":"D","T":1.5,"S":0.15},{"i":"D","T":1.55,"S":0.15},{"i":"D","T":1.6,"S":0.142},{"i":"D","T":1.7,"S":0.12},{"i":"D","T":1.8,"S":0.1},{"i":"D","T":1.9,"S":0.085},{"i":"D","T":2,"S":0.076},{"i":"D","T":2.1,"S":0.074},{"i":"D","T":2.2,"S":0.08},{"i":"D","T":2.3,"S":0.088},{"i":"D","T":2.4,"S":0.095},{"i":"D","T":2.5,"S":0.1},{"i":"D","T":2.6,"S":0.1},{"i":"D","T":2.7,"S":0.1},{"i":"D","T":2.8,"S":0.103},{"i":"D","T":2.9,"S":0.108},{"i":"D","T":3,"S":0.113}
],
"mean":[
{"T":0,"S":0},{"T":0.05,"S":0},{"T":0.1,"S":0.001},{"T":0.15,"S":0.002},{"T":0.2,"S":0.004},{"T":0.25,"S":0.006},{"T":0.3,"S":0.009},{"T":0.34,"S":0.011},{"T":0.4,"S":0.018},{"T":0.45,"S":0.027},{"T":0.49,"S":0.033},{"T":0.53,"S":0.034},{"T":0.58,"S":0.045},{"T":0.63,"S":0.039},{"T":0.66,"S":0.038},{"T":0.7,"S":0.042},{"T":0.73,"S":0.047},{"T":0.79,"S":0.062},{"T":0.85,"S":0.082},{"T":0.93,"S":0.086},{"T":1.02,"S":0.09},{"T":1.06,"S":0.12},{"T":1.1,"S":0.143},{"T":1.14,"S":0.162},{"T":1.18,"S":0.171},{"T":1.23,"S":0.175},{"T":1.27,"S":0.172},{"T":1.32,"S":0.162},{"T":1.37,"S":0.143},{"T":1.42,"S":0.13},{"T":1.45,"S":0.123},{"T":1.5,"S":0.139},{"T":1.55,"S":0.15},{"T":1.62,"S":0.162},{"T":1.67,"S":0.177},{"T":1.72,"S":0.188},{"T":1.76,"S":0.19},{"T":1.8,"S":0.2},{"T":1.82,"S":0.223},{"T":1.85,"S":0.253},{"T":1.89,"S":0.284},{"T":1.91,"S":0.297},{"T":1.94,"S":0.297},{"T":1.98,"S":0.284},{"T":2.01,"S":0.261},{"T":2.05,"S":0.248},{"T":2.09,"S":0.25},{"T":2.14,"S":0.25},{"T":2.18,"S":0.246},{"T":2.23,"S":0.233},{"T":2.26,"S":0.221},{"T":2.31,"S":0.208},{"T":2.4,"S":0.213},{"T":2.5,"S":0.215},{"T":2.65,"S":0.217},{"T":2.7,"S":0.242},{"T":2.79,"S":0.288},{"T":2.89,"S":0.33},{"T":3,"S":0.364}
],
"xticks":[{"T":0.1},{"T":0.2},{"T":0.3},{"T":0.4},{"T":0.5},{"T":0.6},{"T":0.7},{"T":0.8},{"T":0.9},{"T":1},{"T":1.1},{"T":1.2},{"T":1.3},{"T":1.4},{"T":1.5},{"T":1.6},{"T":1.7},{"T":1.8},{"T":1.9},{"T":2},{"T":2.1},{"T":2.2},{"T":2.3},{"T":2.4},{"T":2.5},{"T":2.6},{"T":2.7},{"T":2.8},{"T":2.9}],
"yticks":[{"S":0.1},{"S":0.2},{"S":0.3},{"S":0.4}]
},
"encoding":{
"x":{"field":"T","type":"quantitative","scale":{"domain":[0,3],"nice":false,"zero":false},
"axis":{"title":"Periode T [s]","values":[0,0.5,1,1.5,2,2.5,3],"format":".1~f",
"labelOverlap":false,"labelFlush":false,"labelFont":"Liberation Sans","labelFontWeight":"bold","labelFontSize":21,"labelColor":"#000","labelPadding":24,
"ticks":false,
"grid":true,"gridColor":"#222","gridWidth":1,
"domain":false,"titleFont":"Liberation Sans","titleFontSize":25,"titleFontWeight":"bold","titleColor":"#000","titlePadding":9,"titleX":393}},
"y":{"field":"S","type":"quantitative","scale":{"domain":[0,0.5],"nice":false},
"axis":{"title":"Spektrale Verschiebung Sd [m]","values":[0,0.1,0.2,0.3,0.4,0.5],"format":".1~f",
"labelFont":"Liberation Sans","labelFontWeight":"bold","labelFontSize":21,"labelColor":"#000","labelPadding":20,
"ticks":false,
"grid":true,"gridColor":"#808080","gridWidth":1.5,"domain":false,
"titleFont":"Liberation Sans","titleFontSize":26,"titleFontWeight":"bold","titleColor":"#000","titlePadding":20,"titleY":239}}
},
"layer":[
{"data":{"name":"spectra"},"mark":{"type":"line","color":"#000","strokeWidth":1,"clip":true},"encoding":{"detail":{"field":"i","type":"nominal"}}},
{"data":{"name":"mean"},"mark":{"type":"line","color":"#FFC800","strokeWidth":3,"clip":true},"encoding":{}},
{"data":{"name":"xticks"},"mark":{"type":"rule","color":"#000","strokeWidth":2.5,"opacity":1},"encoding":{"y":{"datum":0,"type":"quantitative"},"y2":{"datum":0.0095}}},
{"data":{"name":"yticks"},"mark":{"type":"rule","color":"#000","strokeWidth":2.5,"opacity":1},"encoding":{"x":{"datum":0,"type":"quantitative"},"x2":{"datum":0.031}}},
{"data":{"values":[{"T":0.027,"T2":1.55,"S":0.15}]},"mark":{"type":"rule","color":"#FF3D12","strokeWidth":4.5},"encoding":{"x2":{"field":"T2"}}},
{"data":{"values":[{"T":1.55,"S":0,"S2":0.142}]},"mark":{"type":"rule","color":"#FF3D12","strokeWidth":4.5},"encoding":{"y2":{"field":"S2"}}},
{"data":{"values":[{"T":0.027,"S":0.15}]},"mark":{"type":"point","shape":"triangle-left","filled":true,"size":144,"color":"#FF3D12","opacity":1},"encoding":{}},
{"data":{"values":[{"T":1.55,"S":0.1421}]},"mark":{"type":"point","shape":"triangle-up","filled":true,"size":144,"color":"#FF3D12","opacity":1},"encoding":{}},
{"data":{"values":[{"T":0.0445,"S":0.1678,"txt":"S"}]},"mark":{"type":"text","align":"left","baseline":"alphabetic","font":"Liberation Sans","fontWeight":"bold","fontSize":20,"color":"#FF3D12","dx":0},"encoding":{"text":{"field":"txt"}}},
{"data":{"values":[{"T":0.0445,"S":0.1678,"txt":"d"}]},"mark":{"type":"text","align":"left","baseline":"alphabetic","font":"Liberation Sans","fontWeight":"bold","fontSize":12,"color":"#FF3D12","dx":13.5,"dy":6},"encoding":{"text":{"field":"txt"}}},
{"data":{"values":[{"T":0.0445,"S":0.1678,"txt":"(T"}]},"mark":{"type":"text","align":"left","baseline":"alphabetic","font":"Liberation Sans","fontWeight":"bold","fontSize":20,"color":"#FF3D12","dx":21},"encoding":{"text":{"field":"txt"}}},
{"data":{"values":[{"T":0.0445,"S":0.1678,"txt":"1"}]},"mark":{"type":"text","align":"left","baseline":"alphabetic","font":"Liberation Sans","fontWeight":"bold","fontSize":12,"color":"#FF3D12","dx":40,"dy":6},"encoding":{"text":{"field":"txt"}}},
{"data":{"values":[{"T":0.0445,"S":0.1678,"txt":") = 0.15 m"}]},"mark":{"type":"text","align":"left","baseline":"alphabetic","font":"Liberation Sans","fontWeight":"bold","fontSize":20,"color":"#FF3D12","dx":47},"encoding":{"text":{"field":"txt"}}},
{"data":{"values":[{"T":1.603,"S":0.0385,"txt":"T"}]},"mark":{"type":"text","align":"left","baseline":"alphabetic","font":"Liberation Sans","fontWeight":"bold","fontSize":20,"color":"#FF3D12","dx":0},"encoding":{"text":{"field":"txt"}}},
{"data":{"values":[{"T":1.603,"S":0.0385,"txt":"1"}]},"mark":{"type":"text","align":"left","baseline":"alphabetic","font":"Liberation Sans","fontWeight":"bold","fontSize":12,"color":"#FF3D12","dx":11.5,"dy":5},"encoding":{"text":{"field":"txt"}}},
{"data":{"values":[{"T":1.603,"S":0.0385,"txt":"= 1.55 s"}]},"mark":{"type":"text","align":"left","baseline":"alphabetic","font":"Liberation Sans","fontWeight":"bold","fontSize":20,"color":"#FF3D12","dx":23.5},"encoding":{"text":{"field":"txt"}}}
]
}
